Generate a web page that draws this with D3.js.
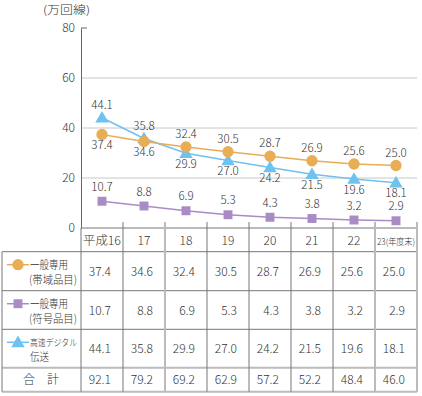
<!DOCTYPE html>
<html>
<head>
<meta charset="utf-8">
<script src="https://cdn.jsdelivr.net/npm/d3@7"></script>
<style>
  body { margin: 0; background: #fff; }
  svg text { font-family: "Noto Sans CJK JP", "Noto Sans", sans-serif; font-weight: 300; fill: #333; }
</style>
</head>
<body>
<div id="vis"></div>
<script>
// years (header of table)
const years = ["平成16", "17", "18", "19", "20", "21", "22", "23"];
const bandwidth = [37.4, 34.6, 32.4, 30.5, 28.7, 26.9, 25.6, 25.0];   // 一般専用（帯域品目）
const code = [10.7, 8.8, 6.9, 5.3, 4.3, 3.8, 3.2, 2.9];               // 一般専用（符号品目）
const digital = [44.1, 35.8, 29.9, 27.0, 24.2, 21.5, 19.6, 18.1];     // 高速デジタル伝送
const totals = [92.1, 79.2, 69.2, 62.9, 57.2, 52.2, 48.4, 46.0];
const yTicks = [0, 20, 40, 60, 80];

const W = 422, H = 396;
const svg = d3.select("#vis").append("svg")
    .attr("width", W)
    .attr("height", H);

const x = d3.scaleBand()
    .domain(years)
    .range([81, 417]);

const y = d3.scaleLinear()
    .domain([0, 80])
    .range([228, 28]);

const cx = (d, i) => x(years[i]) + x.bandwidth() / 2;

// gridlines
svg.append("g")
    .selectAll("line")
    .data(yTicks.filter(t => t > 0 && t < 80))
    .join("line")
    .attr("x1", 81).attr("x2", 417)
    .attr("y1", d => y(d)).attr("y2", d => y(d))
    .attr("stroke", "#c8c8c8")
    .attr("stroke-width", 1);

// y axis
const yAxis = d3.axisLeft(y).tickValues(yTicks).tickSize(0).tickPadding(6);
const gy = svg.append("g")
    .attr("transform", "translate(81,0)")
    .call(yAxis);
gy.select(".domain").attr("stroke", "#666");
gy.selectAll("text").style("font-size", "12px").attr("fill", "#333");
svg.append("line")
    .attr("x1", 81).attr("x2", 87)
    .attr("y1", y(80)).attr("y2", y(80))
    .attr("stroke", "#666");

svg.append("text")
    .attr("x", 43).attr("y", 14)
    .style("font-size", "11px")
    .attr("textLength", 47)
    .attr("lengthAdjust", "spacingAndGlyphs")
    .text("(万回線)");

// series
const series = [
    { name: "bandwidth", values: bandwidth, color: "#e9ad55", shape: "circle", above: 9,
      pos: ["below", "below", "above", "above", "above", "above", "above", "above"] },
    { name: "code", values: code, color: "#a98cc5", shape: "square", above: 10.5,
      pos: ["above", "above", "above", "above", "above", "above", "above", "above"] },
    { name: "digital", values: digital, color: "#6fc1ef", shape: "triangle", above: 9,
      pos: ["above", "above", "below", "below", "below", "below", "below", "below"] }
];

const symbolOf = {
    circle: d3.symbol().type(d3.symbolCircle).size(100),
    square: d3.symbol().type(d3.symbolSquare).size(80),
    triangle: d3.symbol().type(d3.symbolTriangle).size(78)
};

const line = d3.line()
    .x((d, i) => cx(d, i))
    .y(d => y(d));

// draw digital first, then bandwidth, then code
[series[2], series[0], series[1]].forEach(s => {
    svg.append("path")
        .attr("d", line(s.values))
        .attr("fill", "none")
        .attr("stroke", s.color)
        .attr("stroke-width", 1.5);
});
[series[2], series[0], series[1]].forEach(s => {
    svg.append("g")
        .selectAll("path")
        .data(s.values)
        .join("path")
        .attr("d", symbolOf[s.shape])
        .attr("transform", (d, i) => `translate(${cx(d, i)},${y(d) + (s.shape === "triangle" ? 1 : 0)})`)
        .attr("fill", s.color);
});
series.forEach(s => {
    svg.append("g")
        .selectAll("text")
        .data(s.values)
        .join("text")
        .attr("x", (d, i) => cx(d, i))
        .attr("y", (d, i) => s.pos[i] === "above" ? y(d) - s.above : y(d) + 14.5)
        .attr("text-anchor", "middle")
        .style("font-size", "11.5px")
        .text(d => d.toFixed(1));
});

// table
const rowsY = [228, 251.7, 290.7, 329.3, 367.7, 391.7];
const dark = "#777", light = "#bbb";
const tbl = svg.append("g");

// horizontal lines
rowsY.slice(1).forEach((ry, i) => {
    tbl.append("line")
        .attr("x1", 2).attr("x2", 417)
        .attr("y1", ry).attr("y2", ry)
        .attr("stroke", i >= 3 ? light : dark)
        .attr("stroke-width", i >= 3 ? 2 : 1);
});
tbl.append("line")
    .attr("x1", 81).attr("x2", 417)
    .attr("y1", 228).attr("y2", 228)
    .attr("stroke", dark);

// vertical lines
tbl.append("line")
    .attr("x1", 2).attr("x2", 2)
    .attr("y1", 251.7).attr("y2", 391.7)
    .attr("stroke", dark);
tbl.append("line")
    .attr("x1", 81).attr("x2", 81)
    .attr("y1", 228).attr("y2", 391.7)
    .attr("stroke", dark);
years.forEach((yr, i) => {
    if (i === 0) return;
    const lx = x(yr);
    const thick = (i === 2 || i === 7);
    tbl.append("line")
        .attr("x1", lx).attr("x2", lx)
        .attr("y1", 222).attr("y2", 391.7)
        .attr("stroke", thick ? light : dark)
        .attr("stroke-width", thick ? 2 : 1);
});
tbl.append("line")
    .attr("x1", 417).attr("x2", 417)
    .attr("y1", 222).attr("y2", 391.7)
    .attr("stroke", light)
    .attr("stroke-width", 2);

// header
tbl.selectAll("text.hdr")
    .data(years)
    .join("text")
    .attr("class", "hdr")
    .attr("x", d => x(d) + x.bandwidth() / 2)
    .attr("y", 244.5)
    .attr("text-anchor", "middle")
    .style("font-size", d => d === "23" ? "9px" : "12px")
    .each(function (d) {
        const t = d3.select(this);
        if (d === "23") {
            t.attr("textLength", 38).attr("lengthAdjust", "spacingAndGlyphs").text("23(年度末)");
        } else if (d === "平成16") {
            t.attr("textLength", 38).attr("lengthAdjust", "spacingAndGlyphs").text(d);
        } else {
            t.text(d);
        }
    });

// values
const tableRows = [bandwidth, code, digital, totals];
tableRows.forEach((vals, r) => {
    const cyRow = (rowsY[r + 1] + rowsY[r + 2]) / 2;
    tbl.append("g")
        .selectAll("text")
        .data(vals)
        .join("text")
        .attr("x", (d, i) => cx(d, i) + 9)
        .attr("y", cyRow + 4.5)
        .attr("text-anchor", "end")
        .style("font-size", "12px")
        .text(d => d.toFixed(1));
});

// legend cells
const legendRows = [
    { s: series[0], lines: ["一般専用", "(帯域品目)"], w: [38, 48], fs: [11.5, 11.5] },
    { s: series[1], lines: ["一般専用", "(符号品目)"], w: [38, 48], fs: [11.5, 11.5] },
    { s: series[2], lines: ["高速デジタル", "伝送"], w: [47, 19], fs: [9, 11] }
];
legendRows.forEach((lr, r) => {
    const top = rowsY[r + 1];
    const ly = top + 13;
    tbl.append("line")
        .attr("x1", 7).attr("x2", 29)
        .attr("y1", ly).attr("y2", ly)
        .attr("stroke", lr.s.color)
        .attr("stroke-width", 1.5);
    tbl.append("path")
        .attr("d", symbolOf[lr.s.shape])
        .attr("transform", `translate(18,${ly + (lr.s.shape === "triangle" ? 1 : 0)})`)
        .attr("fill", lr.s.color);
    tbl.append("text")
        .attr("x", 30).attr("y", ly + 4)
        .style("font-size", lr.fs[0] + "px")
        .attr("textLength", lr.w[0])
        .attr("lengthAdjust", "spacingAndGlyphs")
        .text(lr.lines[0]);
    tbl.append("text")
        .attr("x", r < 2 ? 29 : 30).attr("y", ly + 19)
        .style("font-size", lr.fs[1] + "px")
        .attr("textLength", lr.w[1])
        .attr("lengthAdjust", "spacingAndGlyphs")
        .text(lr.lines[1]);
});
tbl.append("text")
    .attr("x", 41).attr("y", 384)
    .attr("text-anchor", "middle")
    .style("font-size", "12px")
    .text("合　計");
</script>
</body>
</html>
